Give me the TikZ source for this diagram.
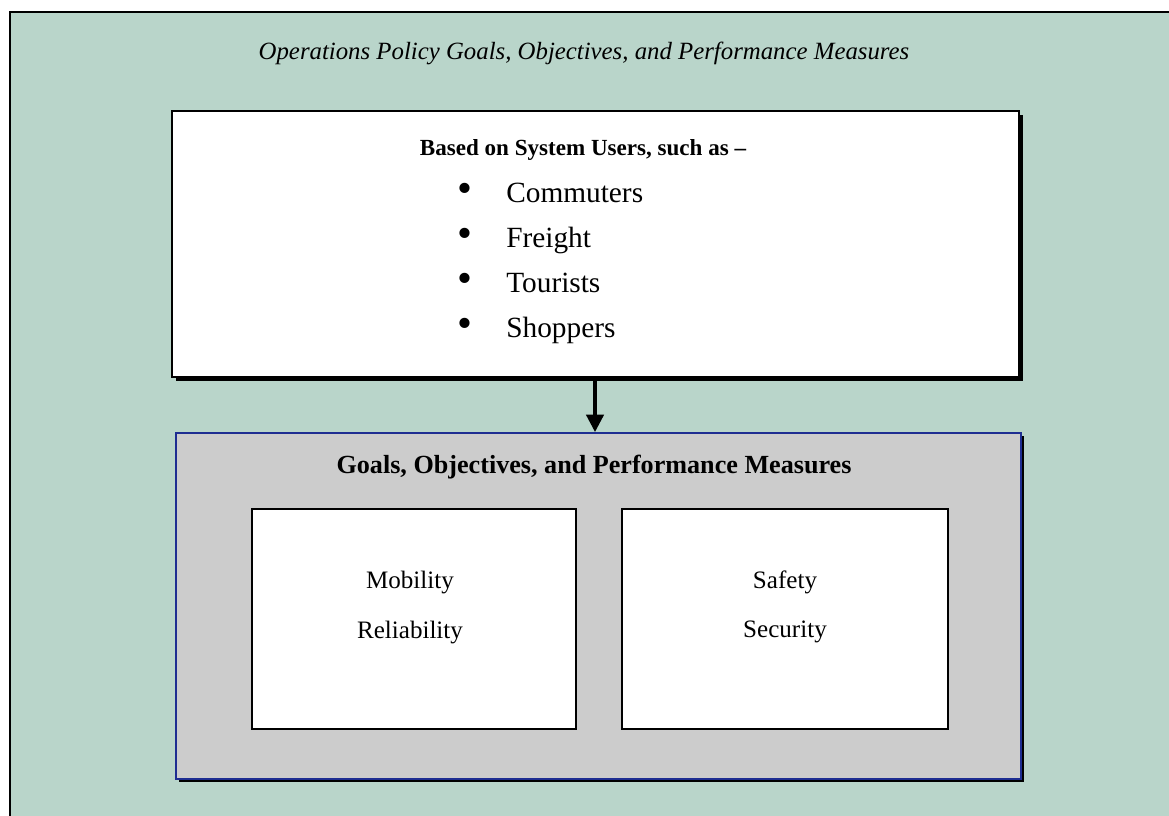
\documentclass[tikz,border=0pt]{standalone}
\usepackage{fontspec}
\setmainfont{Liberation Serif}
\usetikzlibrary{arrows.meta}
\definecolor{bggreen}{RGB}{185,213,202}
\definecolor{boxgray}{RGB}{204,204,204}
\definecolor{boxblue}{RGB}{30,45,145}
\tikzset{
  frame/.style={draw=black,line width=1.5pt,fill=bggreen},
  userbox/.style={draw=black,line width=1.5pt,fill=white,minimum width=847*0.75pt,minimum height=266*0.75pt,inner sep=0pt},
  goalbox/.style={draw=boxblue,line width=1.5pt,fill=boxgray,minimum width=845*0.75pt,minimum height=346*0.75pt,inner sep=0pt},
  innerbox/.style={draw=black,line width=0.8pt,fill=white,minimum height=220*0.75pt,inner sep=0pt},
  shadowbox/.style={fill=black,draw=none,inner sep=0pt},
  titletext/.style={font=\fontsize{18.6}{22}\selectfont\itshape,inner sep=0pt},
  headtext/.style={font=\fontsize{17.3}{21}\selectfont\bfseries,inner sep=0pt},
  goalhead/.style={font=\fontsize{19.6}{23}\selectfont\bfseries,inner sep=0pt},
  itemtext/.style={font=\fontsize{22}{26}\selectfont,inner sep=0pt,anchor=base west},
  bullettext/.style={font=\fontsize{32}{36}\selectfont,inner sep=0pt},
  smalltext/.style={font=\fontsize{18.8}{22}\selectfont,inner sep=0pt},
  arr/.style={draw=black,line width=2.4pt,-{Triangle[width=13pt,length=13pt]}}
}
\begin{document}
\begin{tikzpicture}[x=0.75pt,y=-0.75pt]
\useasboundingbox (0,0) rectangle (1169,815);
\begin{scope}
\clip (0,0) rectangle (1169,815);
\path[frame] (9.5,11.5) rectangle (1185,830);
\end{scope}
\node[titletext] (title) at (584,53) {Operations Policy Goals, Objectives, and Performance Measures};
% users box
\node[shadowbox,minimum width=847*0.75pt,minimum height=266*0.75pt] (ushadow) at (599.5,248) {};
\node[userbox] (users) at (595.5,244) {};
\node[headtext] (uhead) at (583,150) {Based on System Users, such as --};
\node[bullettext] (b1) at (465,193) {•};
\node[bullettext] (b2) at (465,238) {•};
\node[bullettext] (b3) at (465,283) {•};
\node[bullettext] (b4) at (465,328) {•};
\node[itemtext] (i1) at (506,202) {Commuters};
\node[itemtext] (i2) at (506,247) {Freight};
\node[itemtext] (i3) at (506,292) {Tourists};
\node[itemtext] (i4) at (506,337) {Shoppers};
% goals box
\node[shadowbox,minimum width=845*0.75pt,minimum height=346*0.75pt] (gshadow) at (601.5,609) {};
\node[goalbox] (goals) at (598.5,606) {};
\node[goalhead] (ghead) at (594,467) {Goals, Objectives, and Performance Measures};
\node[innerbox,minimum width=324*0.75pt] (left) at (414,619) {};
\node[innerbox,minimum width=326*0.75pt] (right) at (785,619) {};
\node[smalltext] (mob) at (410,582) {Mobility};
\node[smalltext] (rel) at (410,632) {Reliability};
\node[smalltext] (saf) at (785,582) {Safety};
\node[smalltext] (sec) at (785,632) {Security};
% arrow
\draw[arr] (users.south -| 595,0) -- (goals.north -| 595,0);
\end{tikzpicture}
\end{document}
